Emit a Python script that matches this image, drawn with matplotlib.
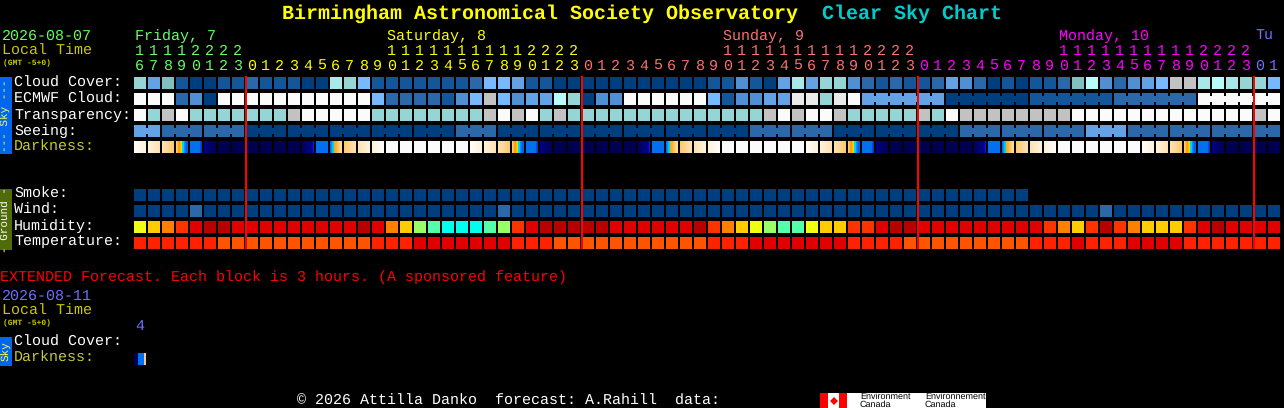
import matplotlib
matplotlib.use("Agg")
import matplotlib.pyplot as plt
import numpy as np
from matplotlib.colors import to_rgb

plt.rcParams["text.hinting"] = "no_hinting"
plt.rcParams["text.hinting_factor"] = 1

# ---------- data ----------
start_hour = 16
n_blocks = 82
day_labels = {0: "Friday, 7", 18: "Saturday, 8", 42: "Sunday, 9", 66: "Monday, 10", 80: "Tu"}

cloud_cover = [7,4,6,1,0,0,1,1,2,1,1,1,0,0,8,7,5,1,1,1,1,
               1,1,1,2,5,5,4,1,1,0,0,0,0,0,0,0,0,0,0,0,1,1,3,1,0,4,8,4,7,7,3,
               2,1,2,1,1,2,4,3,2,0,1,0,1,1,2,6,9,3,2,3,4,5,10,10,8,9,8,7,7,5]
ecmwf_cloud = [12,12,12,2,3,0,12,12,12,12,12,12,12,12,12,12,12,5,2,2,2,
               2,1,3,5,10,5,3,4,4,9,7,0,3,3,12,12,12,12,12,12,5,1,3,3,4,4,11,11,7,11,12,
               4,4,4,4,4,4,0,0,0,0,0,0,1,1,1,1,1,1,2,2,2,2,2,2,12,12,12,12,12,12]
transparency = [12,7,10,12,7,7,7,7,7,7,7,10,12,12,12,12,12,7,7,7,7,
                7,7,7,7,10,12,10,12,7,10,7,7,7,7,7,7,7,7,7,7,7,7,7,7,10,12,10,12,12,10,7,
                7,7,7,7,10,7,12,10,10,10,10,10,10,10,10,12,12,12,12,12,12,12,12,12,12,12,12,12,10,12]
seeing = [4,4,2,2,2,2,2,2,0,0,0,0,0,0,0,0,0,0,0,0,0,
          0,0,2,2,2,0,0,0,0,0,0,0,0,0,0,0,0,0,0,0,0,0,0,2,2,2,2,2,2,0,0,
          0,0,0,0,0,0,0,2,2,2,2,2,2,2,2,2,4,4,4,2,2,2,2,2,2,2,2,2,2,2]
smoke = [0] * 64
wind = [0,0,0,0,2,0,0,0,0,0,0,0,0,0,0,0,0,0,0,0,0,
        0,0,0,0,0,2,0,0,0,0,0,0,0,0,0,0,0,0,0,0,0,0,0,0,0,0,0,0,0,0,0,
        0,0,0,0,0,0,0,0,0,0,0,0,0,0,0,0,0,2,0,0,0,0,0,0,0,0,0,0,0,0]
humidity = [5,4,3,2,1,0,0,1,1,1,1,1,1,1,1,1,0,1,3,4,6,
            7,8,8,8,7,6,2,1,0,0,0,0,0,1,1,1,1,1,1,0,2,3,4,5,6,7,7,5,4,4,2,
            2,1,0,0,1,1,1,1,1,1,1,1,1,2,3,4,2,0,2,3,4,4,4,2,1,0,1,1,1,1]
temperature = [1,1,1,1,1,1,2,2,2,2,2,2,2,2,2,2,2,1,1,1,0,
               0,0,0,0,0,0,1,1,1,2,2,2,2,2,2,2,2,2,2,2,1,1,1,0,0,0,0,0,0,0,1,
               1,1,1,2,2,2,2,2,2,2,2,2,1,1,1,0,1,1,1,0,0,0,0,1,1,1,1,1,1,1]

sky_palette = ["#003F7F","#13569A","#2B68AA","#4F8FD3","#63A3E5","#77B8FF","#80C0C0",
               "#95D5D5","#A8E8E8","#B8FBFB","#C2C2C2","#EAEAEA","#FBFBFB"]
humidity_palette = ["#B80000","#E00000","#FF3300","#FF8000","#FFCC00","#EEFF11",
                    "#99FF66","#55FFAA","#00FFEE"]
temperature_palette = ["#E00000","#FF2200","#FF5500"]

cream0 = ["#FFFDF8","#FFFCF5","#FFFAF2","#FFF9EF","#FFF8EC","#FFF7E9","#FFF6E6","#FFF5E3","#FFF4E1","#FFF3DF","#FFF2DD","#FFF1DB"]
cream1 = ["#FFF0D9","#FFEFD6","#FFEED3","#FEEDD0","#FEECCD","#FEEAC9","#FEE9C6","#FEE7C2","#FEE6BF","#FEE4BB","#FEE3B8","#FEE1B4"]
cream2 = ["#FEDFB0","#FEDEAC","#FEDCA7","#FEDAA2","#FED89C","#FED696","#FED48F","#FED288","#FED081","#FECE7A","#FECC73","#FEC96C"]
dusk   = ["#FFC878","#FFB84A","#FFA41C","#FFA000","#FFC000","#FFD000","#00D8FF","#00D0FF","#0090FF","#0070F0","#0060E8","#0060E0"]
blue_e = ["#0070F0"] * 10 + ["#0050D8","#0040C0"]
navy_e = ["#000088","#000080","#00007C","#000078","#000074","#000070","#00006C","#000068","#000064","#000060","#00005C","#000058"]
navy   = ["#000050"] * 12
navy_m = ["#000060","#000064","#000068","#00006C","#000070","#000074","#000078","#00007C","#000080","#000090","#0000B0","#0020C0"]
blue_m = ["#0070F0"] * 12
dawn   = ["#0070F0","#0090FF","#00C0FF","#00D0FF","#FFA500","#FFB020","#FFB030","#FFC050","#FFC868","#FFD080","#FFD890","#FFDCA0"]
white  = ["#FBFBFB"] * 12
darkness_day = [cream0, cream1, cream2, dusk, blue_e, navy_e, navy, navy, navy, navy, navy, navy,
                navy_m, blue_m, dawn, cream2[::-1], cream1[::-1], cream0[::-1], white, white, white, white, white, white]
extended_darkness = ["#000050"] * 4 + ["#0070F0"] * 6 + ["#FFC878"] * 2

row_labels = ["Cloud Cover:", "ECMWF Cloud:", "Transparency:", "Seeing:", "Darkness:"]
ground_labels = ["Smoke:", "Wind:", "Humidity:", "Temperature:"]

# ---------- layout ----------
X0, STEP, W = 134, 14, 12
sky_y = [77, 93, 109, 125, 141]
ground_y = [189, 205, 221, 237]
FONT = "Liberation Mono"
BG = "#000000"

fig = plt.figure(figsize=(12.84, 4.08), dpi=100, facecolor=BG)
ax = fig.add_axes([0, 0, 1, 1], facecolor=BG)
ax.axis("off")

def txt(x, y, s, color="#FFFFFF", size=10.8, ha="left", **kw):
    kw.setdefault("va", "baseline")
    ax.text(x, y, s, color=color, fontsize=size, family=FONT, ha=ha, **kw)

def blocks(values, palette, y):
    xs = [X0 + STEP * i for i in range(len(values))]
    ax.bar(xs, [W] * len(values), width=W, bottom=y, align="edge", linewidth=0,
           color=[palette[v] for v in values], antialiased=False, zorder=2)

def connect(values, palette, y, first, span):
    for i in range(first, len(values) - 1):
        if (i - first) % span != span - 1 and values[i] == values[i + 1]:
            ax.bar(X0 + STEP * i + W, 6, width=STEP - W, bottom=y + 3, align="edge", linewidth=0,
                   color=palette[values[i]], antialiased=False, zorder=2)

# title
txt(282, 18.5, "Birmingham Astronomical Society Observatory", "#FFFF00", 14.4, fontweight="bold")
txt(822, 18.5, "Clear Sky Chart", "#00CCCC", 14.4, fontweight="bold")

# header
txt(2, 40, "2026-08-07", "#66FF66")
txt(2, 55, "Local Time", "#C8C800")
txt(3, 65, "(GMT -5+0)", "#C8C800", 5.8, fontweight="bold")

def day_color(i):
    if i < 8: return "#66FF66"
    if i < 32: return "#FFFF00"
    if i < 56: return "#FF7070"
    if i < 80: return "#FF00FF"
    return "#7070FF"

for i in range(n_blocks):
    hour = (start_hour + i) % 24
    cx = X0 + STEP * i + 5.5
    if hour >= 10:
        txt(cx, 55, str(hour // 10), day_color(i), ha="center")
    txt(cx, 70, str(hour % 10), day_color(i), ha="center")
for i, s in day_labels.items():
    txt(X0 + STEP * i + 1, 40, s, day_color(i))

# sky rows
for label, y in zip(row_labels, sky_y):
    txt(14, y + 10, label, "#C8C83C" if label == "Darkness:" else "#FFFFFF")
blocks(cloud_cover, sky_palette, sky_y[0])
blocks(ecmwf_cloud, sky_palette, sky_y[1])
connect(ecmwf_cloud, sky_palette, sky_y[1], 52, 6)
blocks(transparency, sky_palette, sky_y[2])
blocks(seeing, sky_palette, sky_y[3])
connect(seeing, sky_palette, sky_y[3], 2, 3)
connect(seeing[:2], sky_palette, sky_y[3], 0, 2)

# darkness
for i in range(n_blocks):
    strip = np.array([[to_rgb(c) for c in darkness_day[i % 24]]])
    x = X0 + STEP * i
    ax.imshow(strip, extent=(x, x + W, sky_y[4] + W, sky_y[4]), interpolation="nearest",
              aspect="auto", zorder=2)

# ground rows
for label, y in zip(ground_labels, ground_y):
    txt(14, y + 9, label)
blocks(smoke, sky_palette, ground_y[0])
blocks(wind, sky_palette, ground_y[1])
blocks(humidity, humidity_palette, ground_y[2])
blocks(temperature, temperature_palette, ground_y[3])

# midnights
for i in range(n_blocks):
    if (start_hour + i) % 24 == 0:
        ax.bar(X0 + STEP * i - 1, 173, width=2, bottom=76, align="edge", linewidth=0,
               color="#FF0000", antialiased=False, zorder=3)

# side bars
ax.bar(0, 77, width=12, bottom=77, align="edge", color="#0066EE", linewidth=0, antialiased=False)
ax.bar(0, 61, width=12, bottom=189, align="edge", color="#4F6B0A", linewidth=0, antialiased=False)
ax.bar(0, 29, width=12, bottom=337, align="edge", color="#0066EE", linewidth=0, antialiased=False)
txt(6, 116, "--- Sky ---", "#FFFF44", 7.6, ha="center", va="center", rotation=90)
txt(6, 220, "- Ground -", "#FFFFFF", 7.6, ha="center", va="center", rotation=90)
txt(6, 351, "Sky", "#FFFF44", 7.6, ha="center", va="center", rotation=90)

# extended
txt(0, 281, "EXTENDED Forecast. Each block is 3 hours. (A sponsored feature)", "#FF0000")
txt(2, 300, "2026-08-11", "#7070FF")
txt(2, 315, "Local Time", "#C8C800")
txt(3, 325, "(GMT -5+0)", "#C8C800", 5.8, fontweight="bold")
txt(139.5, 330, "4", "#7070FF", ha="center")
txt(14, 346, "Cloud Cover:")
txt(14, 362, "Darkness:", "#C8C83C")
ax.imshow(np.array([[to_rgb(c) for c in extended_darkness]]), extent=(134, 146, 365, 353),
          interpolation="nearest", aspect="auto", zorder=2)

# footer
txt(297, 405, "\u00a9 2026 Attilla Danko  forecast: A.Rahill  data:", "#FFFFFF")
ax.bar(820, 15, width=166, bottom=393, align="edge", color="#FFFFFF", linewidth=0, antialiased=False)
ax.bar([820, 839], [15, 15], width=8, bottom=393, align="edge", color="#FF0000", linewidth=0, antialiased=False, zorder=2)
ax.plot([833.5], [400.5], marker="D", ms=4, color="#FF0000", mew=0, zorder=3)
for x, s1 in ((860, "Environment"), (925, "Environnement")):
    ax.text(x, 396.5, s1, color="#000000", fontsize=6.3, family="Liberation Sans", va="center", zorder=3)
    ax.text(x, 404.5, "Canada", color="#000000", fontsize=6.3, family="Liberation Sans", va="center", zorder=3)

ax.set_xlim(0, 1284)
ax.set_ylim(408, 0)
fig.savefig("out.png", dpi=100, facecolor=BG)
